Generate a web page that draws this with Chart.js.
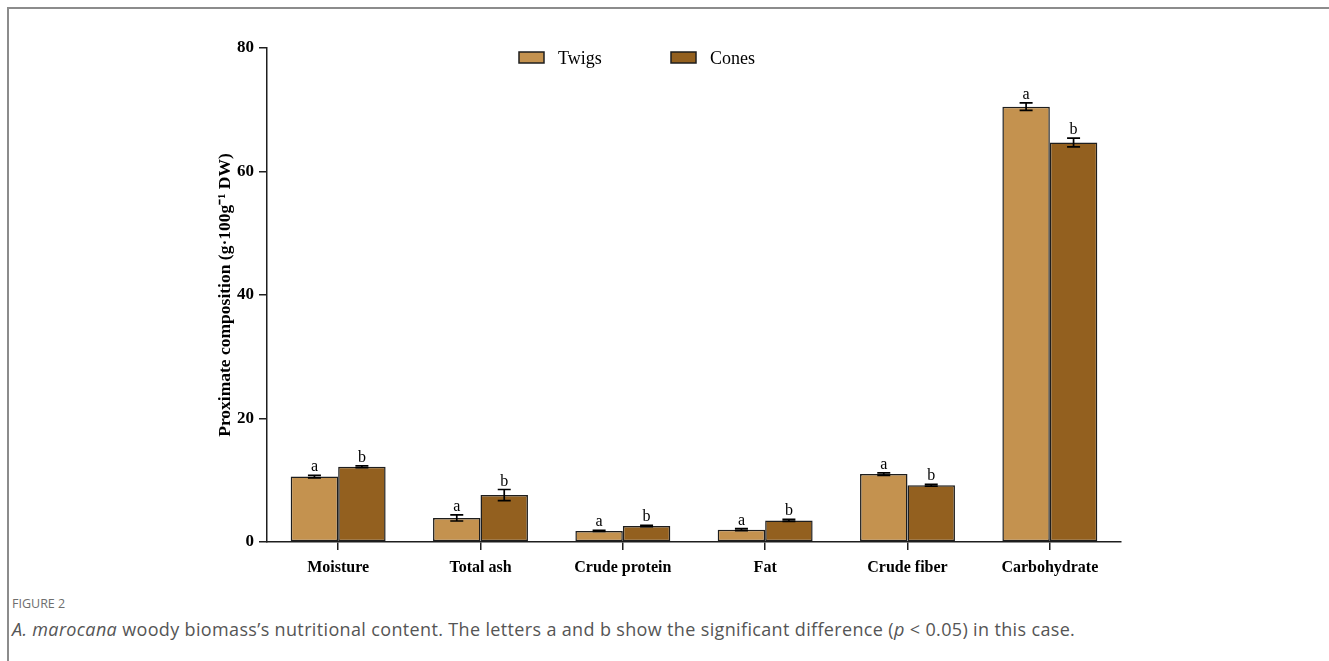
<!DOCTYPE html>
<html>
<head>
<meta charset="utf-8">
<title>Proximate composition</title>
<script src="https://cdn.jsdelivr.net/npm/chart.js@4.4.0/dist/chart.umd.min.js"></script>
<style>
  html, body { margin: 0; padding: 0; background: #fff; }
  body { width: 1329px; height: 661px; position: relative; overflow: hidden; }
  #frame { position: absolute; left: 7px; top: 7px; width: 1330px; height: 670px;
           border-left: 2px solid #8c8c8c; border-top: 2px solid #8c8c8c; }
  #chartBox { position: absolute; left: 0; top: 0; width: 1329px; height: 595px; }
  .figlabel { position: absolute; left: 12px; top: 595px; font-family: 'Open Sans', sans-serif;
              font-size: 12.5px; font-weight: 400; color: #6e6e6e; }
  .caption { position: absolute; left: 12px; top: 617px; font-family: 'Open Sans', sans-serif;
             font-size: 18px; font-weight: 400; color: #555; white-space: nowrap; letter-spacing: 0.35px; }
</style>
</head>
<body>
<div id="frame"></div>
<div id="chartBox"><canvas id="chart" width="1329" height="595"></canvas></div>
<div class="figlabel">FIGURE 2</div>
<div class="caption"><i>A. marocana</i> woody biomass’s nutritional content. The letters a and b show the significant difference (<i>p</i> &lt; 0.05) in this case.</div>

<script>
// Proximate composition of twigs and cones (g·100 g⁻¹ DW), mean ± SD
const categories = ['Moisture', 'Total ash', 'Crude protein', 'Fat', 'Crude fiber', 'Carbohydrate'];
const seriesNames = ['Twigs', 'Cones'];
const twigs = [10.6, 3.9, 1.8, 2.0, 11.0, 70.5];
const cones = [12.2, 7.6, 2.6, 3.5, 9.2, 64.7];
const twigsErr = [0.2, 0.5, 0.1, 0.15, 0.2, 0.6];
const conesErr = [0.15, 0.9, 0.1, 0.15, 0.15, 0.7];
const twigsLetters = ['a', 'a', 'a', 'a', 'a', 'a'];
const conesLetters = ['b', 'b', 'b', 'b', 'b', 'b'];
const yTicks = [0, 20, 40, 60, 80];

const TWIG_COLOR = '#c4924f';
const CONE_COLOR = '#93601f';
const INK = '#1e1e1e';
const SERIF = "'Liberation Serif', 'Times New Roman', serif";

// error bars with significance letters on top of each bar
const errorBars = {
  id: 'errorBars',
  afterDatasetsDraw(chart) {
    const { ctx, scales: { y } } = chart;
    ctx.save();
    chart.data.datasets.forEach((ds, di) => {
      const meta = chart.getDatasetMeta(di);
      meta.data.forEach((bar, i) => {
        const v = ds.data[i], e = ds.errors[i];
        const yHi = y.getPixelForValue(v + e);
        const yLo = y.getPixelForValue(v - e);
        const half = 6.5;
        ctx.strokeStyle = '#000';
        ctx.lineWidth = 1.7;
        ctx.beginPath();
        ctx.moveTo(bar.x, yHi); ctx.lineTo(bar.x, yLo);
        ctx.moveTo(bar.x - half, yHi); ctx.lineTo(bar.x + half, yHi);
        ctx.moveTo(bar.x - half, yLo); ctx.lineTo(bar.x + half, yLo);
        ctx.stroke();
        ctx.fillStyle = '#000';
        ctx.font = `16px ${SERIF}`;
        ctx.textAlign = 'center';
        ctx.textBaseline = 'alphabetic';
        ctx.fillText(ds.letters[i], bar.x, yHi - 4);
      });
    });
    ctx.restore();
  }
};

// legend row above the plot
const topLegend = {
  id: 'topLegend',
  afterDraw(chart) {
    const { ctx } = chart;
    const items = [{ x: 519 }, { x: 671 }];
    ctx.save();
    chart.data.datasets.forEach((ds, i) => {
      const bx = items[i].x, by = 52;
      ctx.fillStyle = ds.backgroundColor;
      ctx.fillRect(bx, by, 25, 11);
      ctx.strokeStyle = INK;
      ctx.lineWidth = 1.5;
      ctx.strokeRect(bx, by, 25, 11);
      ctx.fillStyle = '#000';
      ctx.font = `18px ${SERIF}`;
      ctx.textAlign = 'left';
      ctx.textBaseline = 'middle';
      ctx.fillText(ds.label, bx + 39, by + 7);
    });
    ctx.restore();
  }
};

new Chart(document.getElementById('chart'), {
  type: 'bar',
  data: {
    labels: categories,
    datasets: [
      { label: seriesNames[0], data: twigs, errors: twigsErr, letters: twigsLetters,
        backgroundColor: TWIG_COLOR, borderColor: INK, borderWidth: 1.5, borderSkipped: false,
        categoryPercentage: 0.667, barPercentage: 1.0 },
      { label: seriesNames[1], data: cones, errors: conesErr, letters: conesLetters,
        backgroundColor: CONE_COLOR, borderColor: INK, borderWidth: 1.5, borderSkipped: false,
        categoryPercentage: 0.667, barPercentage: 1.0 }
    ]
  },
  options: {
    responsive: false,
    animation: false,
    devicePixelRatio: 1,
    layout: { padding: { left: 200, right: 208, top: 48, bottom: 13 } },
    plugins: { legend: { display: false }, tooltip: { enabled: false } },
    scales: {
      x: {
        offset: true,
        grid: { display: true, offset: false, drawOnChartArea: false, drawTicks: true,
                tickLength: 8, color: INK, lineWidth: 1.5 },
        border: { display: true, color: INK, width: 1.5 },
        ticks: { font: { family: SERIF, size: 16, weight: 'bold' }, color: '#000',
                 padding: 8, maxRotation: 0, autoSkip: false },
        afterFit(s) { s.height = 40; }
      },
      y: {
        min: 0, max: 80,
        afterBuildTicks(s) { s.ticks = yTicks.map(v => ({ value: v })); },
        grid: { display: true, drawOnChartArea: false, drawTicks: true,
                tickLength: 8, color: INK, lineWidth: 1.5 },
        border: { display: true, color: INK, width: 1.5 },
        ticks: { font: { family: SERIF, size: 17, weight: 'bold' }, color: '#000', padding: 5 },
        title: { display: true, text: 'Proximate composition (g·100g⁻¹ DW)',
                 font: { family: SERIF, size: 17.5, weight: 'bold' }, color: '#000',
                 padding: { top: 15, bottom: 0 } },
        afterFit(s) { s.width = 67; }
      }
    }
  },
  plugins: [errorBars, topLegend]
});
</script>
</body>
</html>
